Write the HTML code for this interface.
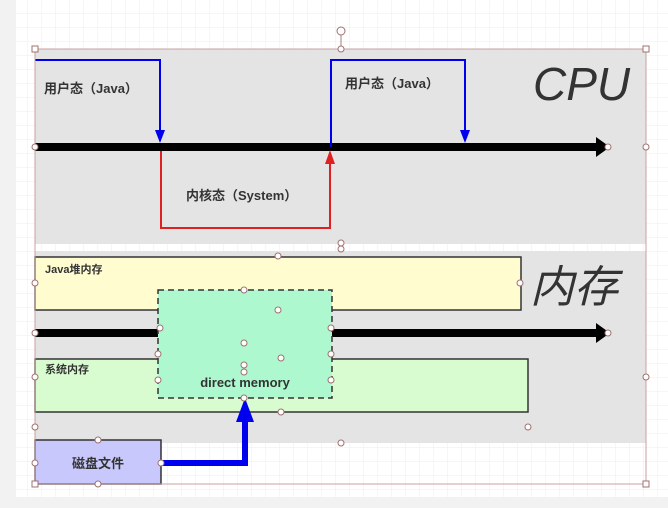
<!DOCTYPE html>
<html><head><meta charset="utf-8"><style>
html,body{margin:0;padding:0;background:#f2f2f2;}
svg{display:block}
text{font-family:"Liberation Sans","Noto Sans CJK SC",sans-serif;}
</style></head><body>
<svg width="668" height="508" viewBox="0 0 668 508" xmlns="http://www.w3.org/2000/svg">
<defs>
<pattern id="g" width="14" height="14" patternUnits="userSpaceOnUse">
<rect width="14" height="14" fill="#fff"/>
<path d="M14 0V14M0 14H14" stroke="#ececec" stroke-width="1"/>
</pattern>
</defs>
<rect x="0" y="0" width="668" height="508" fill="#f2f2f2"/>
<rect x="16" y="0" width="652" height="497" fill="url(#g)"/>
<!-- panels -->
<rect x="35" y="49" width="611" height="195" fill="#e4e4e4"/>
<rect x="35" y="251" width="611" height="192" fill="#e4e4e4"/>
<!-- CPU -->
<text x="533" y="100" font-size="46" font-style="italic" fill="#333" font-family="Liberation Sans,sans-serif">CPU</text>
<path d="M35 147H600" stroke="#000" stroke-width="8"/>
<polygon points="596,137 610,147 596,157" fill="#000"/>
<polyline points="35,60 160,60 160,132" fill="none" stroke="#0000ee" stroke-width="2"/>
<polygon points="155,130 165,130 160,143" fill="#0000ee"/>
<polyline points="161,151 161,228 330,228 330,162" fill="none" stroke="#e02020" stroke-width="2"/>
<polygon points="325,164 335,164 330,150" fill="#e02020"/>
<polyline points="331,147 331,60 465,60 465,132" fill="none" stroke="#0000ee" stroke-width="2"/>
<polygon points="460,130 470,130 465,143" fill="#0000ee"/>
<text x="44" y="93" font-size="13" font-weight="bold" fill="#333">用户态（Java）</text>
<text x="345" y="88" font-size="13" font-weight="bold" fill="#333">用户态（Java）</text>
<text x="186" y="200" font-size="13" font-weight="bold" fill="#333">内核态（System）</text>
<!-- memory -->
<rect x="35" y="257" width="486" height="53" fill="#fffdd0" stroke="#333" stroke-width="1.5"/>
<text x="45" y="273" font-size="11" font-weight="bold" fill="#333">Java堆内存</text>
<text x="530" y="302" font-size="44" font-style="italic" fill="#333" font-family="Noto Sans CJK SC,sans-serif">内存</text>
<rect x="35" y="359" width="493" height="53" fill="#d8fcd0" stroke="#333" stroke-width="1.5"/>
<text x="45" y="373" font-size="11" font-weight="bold" fill="#333">系统内存</text>
<path d="M35 333H600" stroke="#000" stroke-width="8"/>
<polygon points="596,323 610,333 596,343" fill="#000"/>
<rect x="158" y="290" width="174" height="108" fill="#aef8d0" stroke="#333" stroke-width="1.5" stroke-dasharray="6,4"/>
<text x="245" y="387" font-size="13" font-weight="bold" fill="#333" text-anchor="middle">direct memory</text>
<rect x="35" y="440" width="126" height="44" fill="#c8c8fc" stroke="#333" stroke-width="1.5"/>
<text x="98" y="468" font-size="13" font-weight="bold" fill="#333" text-anchor="middle">磁盘文件</text>
<polyline points="161,463 245,463 245,415" fill="none" stroke="#0000ee" stroke-width="6"/>
<polygon points="236,422 254,422 245,398" fill="#0000ee"/>
<!-- selection -->
<rect x="35" y="49" width="611" height="435" fill="none" stroke="#c8a0a0" stroke-width="1"/>
<path d="M341 35V49" stroke="#a08080"/>
<g fill="#fff" stroke="#a07070" stroke-width="1">
<circle cx="341" cy="31" r="4"/>
<rect x="32" y="46" width="6" height="6"/><rect x="643" y="46" width="6" height="6"/>
<rect x="32" y="481" width="6" height="6"/><rect x="643" y="481" width="6" height="6"/>
<circle cx="341" cy="49" r="3"/><circle cx="35" cy="147" r="3"/><circle cx="608" cy="147" r="3"/><circle cx="646" cy="147" r="3"/>
<circle cx="341" cy="243" r="3"/><circle cx="341" cy="249" r="3"/>
<circle cx="278" cy="256" r="3"/><circle cx="35" cy="283" r="3"/><circle cx="520" cy="283" r="3"/>
<circle cx="244" cy="290" r="3"/><circle cx="278" cy="310" r="3"/>
<circle cx="35" cy="333" r="3"/><circle cx="158" cy="354" r="3"/><circle cx="331" cy="354" r="3"/><circle cx="608" cy="333" r="3"/><circle cx="646" cy="377" r="3"/>
<circle cx="35" cy="377" r="3"/><circle cx="244" cy="343" r="3"/><circle cx="281" cy="358" r="3"/>
<circle cx="160" cy="328" r="3"/><circle cx="331" cy="328" r="3"/><circle cx="244" cy="365" r="3"/><circle cx="244" cy="372" r="3"/>
<circle cx="35" cy="427" r="3"/><circle cx="528" cy="427" r="3"/><circle cx="158" cy="380" r="3"/><circle cx="331" cy="380" r="3"/>
<circle cx="244" cy="398" r="3"/><circle cx="281" cy="412" r="3"/><circle cx="341" cy="443" r="3"/>
<circle cx="98" cy="440" r="3"/><circle cx="35" cy="463" r="3"/><circle cx="161" cy="463" r="3"/><circle cx="98" cy="484" r="3"/>
</g>
</svg>
</body></html>
